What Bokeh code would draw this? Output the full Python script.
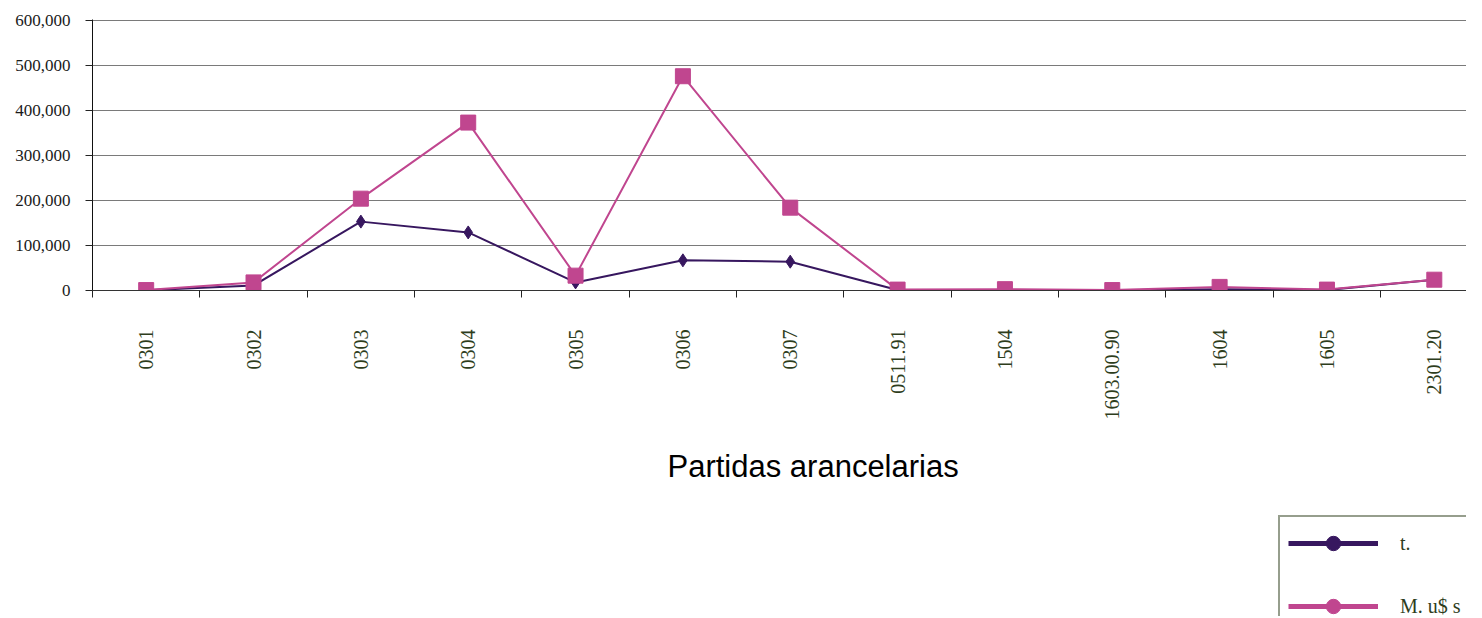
import math
from bokeh.plotting import figure
from bokeh.layouts import column, row
from bokeh.models import (Range1d, FixedTicker, NumeralTickFormatter, Legend, LegendItem, Title, Spacer)
from bokeh.embed import file_html
from bokeh.resources import INLINE

categories = ["0301", "0302", "0303", "0304", "0305", "0306", "0307",
              "0511.91", "1504", "1603.00.90", "1604", "1605", "2301.20"]
toneladas = [500, 11000, 153000, 129000, 18000, 67000, 64000,
             1000, 1000, 500, 3000, 1000, 24000]
miles_usd = [1000, 18000, 204000, 373000, 33000, 476000, 184000,
             2000, 3000, 1000, 8000, 2000, 24000]
y_ticks = [0, 100000, 200000, 300000, 400000, 500000, 600000]
series_names = ["t.", "M. u$ s"]

xs = list(range(len(categories)))

DARK = "#37175f"
PINK = "#c0468f"
OLIVE = "#2e3d1c"

p = figure(width=1466, height=510, output_backend="svg", toolbar_location=None,
           x_range=Range1d(-0.5, 12.30), y_range=Range1d(0, 602000),
           min_border_left=92, min_border_top=19, min_border_right=0, min_border_bottom=220)
p.outline_line_color = None
p.background_fill_color = "white"
p.border_fill_color = "white"

# axes
p.xaxis.ticker = FixedTicker(ticks=xs, minor_ticks=[i - 0.5 for i in range(len(categories) + 1)])
p.xaxis.major_label_overrides = {i: c for i, c in enumerate(categories)}
p.xaxis.major_label_orientation = math.pi / 2
p.xaxis.major_tick_out = 0
p.xaxis.major_tick_in = 0
p.xaxis.minor_tick_out = 7
p.xaxis.minor_tick_in = 0
p.xaxis.minor_tick_line_color = "#222222"
p.xaxis.axis_line_color = "#333333"
p.xaxis.major_label_standoff = 32
p.xaxis.major_label_text_font = "Liberation Serif"
p.xaxis.major_label_text_font_size = "20px"
p.xaxis.major_label_text_color = OLIVE

p.yaxis.ticker = FixedTicker(ticks=y_ticks)
p.yaxis.formatter = NumeralTickFormatter(format="0,0")
p.yaxis.minor_tick_line_color = None
p.yaxis.major_tick_out = 7
p.yaxis.major_tick_in = 0
p.yaxis.major_tick_line_color = "#222222"
p.yaxis.axis_line_color = "#111111"
p.yaxis.major_label_standoff = 15
p.yaxis.major_label_text_font = "Liberation Serif"
p.yaxis.major_label_text_font_size = "17px"
p.yaxis.major_label_text_color = "#1a1a1a"

p.xgrid.grid_line_color = None
p.ygrid.ticker = FixedTicker(ticks=y_ticks)
p.ygrid.grid_line_color = "#7a7a7a"
p.ygrid.grid_line_width = 1

# series
p.line(xs, toneladas, line_color=DARK, line_width=2)
p.scatter(xs, toneladas, marker="diamond", size=13, fill_color=DARK, line_color=DARK)
p.line(xs, miles_usd, line_color=PINK, line_width=2)
p.scatter(xs, miles_usd, marker="square", size=15, fill_color=PINK, line_color=PINK)

title = Title(text="Partidas arancelarias", align="left", offset=575,
              text_font="Liberation Sans", text_font_size="31px",
              text_font_style="normal", text_color="black", standoff=48)
p.add_layout(title, "below")

# legend in its own small figure below the chart, right side.
# Its ranges lie outside the data, so only the legend box is visible.
lf = figure(width=193, height=106, output_backend="svg", toolbar_location=None,
            x_range=Range1d(-3, -2), y_range=Range1d(-3, -2),
            min_border=0, x_axis_type=None, y_axis_type=None)
lf.outline_line_color = None
lf.grid.grid_line_color = None
lf.background_fill_color = "white"
lf.border_fill_color = "white"

l1 = lf.line(xs, toneladas, line_color=DARK, line_width=5)
c1 = lf.scatter(xs, toneladas, marker="circle", size=16, fill_color=DARK, line_color=DARK)
l2 = lf.line(xs, miles_usd, line_color=PINK, line_width=5)
c2 = lf.scatter(xs, miles_usd, marker="circle", size=16, fill_color=PINK, line_color=PINK)

legend = Legend(items=[LegendItem(label=series_names[0], renderers=[l1, c1]),
                       LegendItem(label=series_names[1], renderers=[l2, c2])],
                location="top_left", margin=5,
                glyph_width=90, glyph_height=36, label_height=36,
                spacing=27, padding=8, label_standoff=22,
                label_text_font="Liberation Serif", label_text_font_size="20px",
                label_text_color=OLIVE,
                border_line_color=OLIVE, border_line_width=2.5,
                background_fill_color="white", background_fill_alpha=1)
lf.add_layout(legend, "center")

layout = column(p, row(Spacer(width=1273, height=106), lf, spacing=0), spacing=0)

open("out.html", "w").write(file_html(layout, INLINE))
